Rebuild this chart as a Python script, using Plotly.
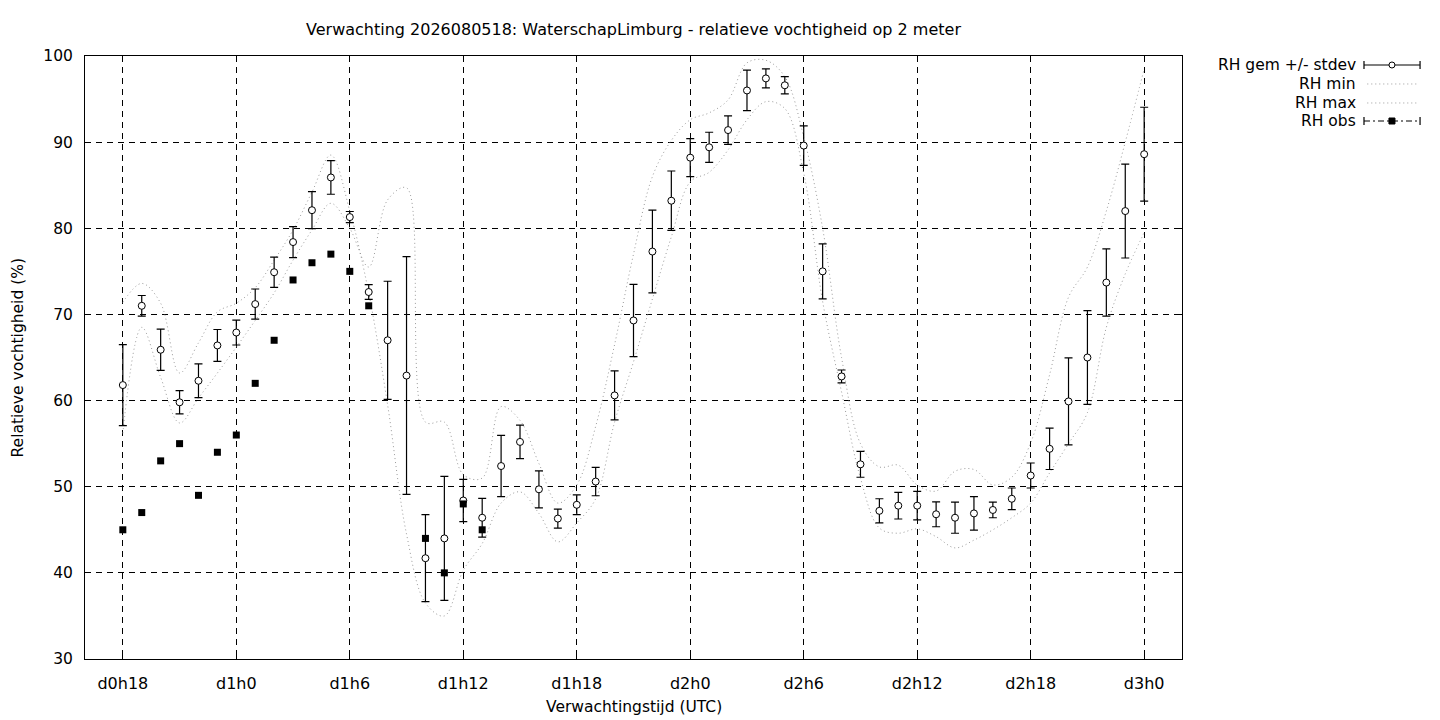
import plotly.graph_objects as go

# forecast hours (hours since d0h0)
hours = list(range(18, 73))

rh_gem = [61.8, 71.0, 65.9, 59.8, 62.3, 66.4, 67.9, 71.2, 74.9, 78.4, 82.1, 85.9,
          81.3, 72.6, 67.0, 62.9, 41.7, 44.0, 48.4, 46.4, 52.4, 55.2,
          49.7, 46.3, 47.9, 50.6, 60.6, 69.3, 77.3, 83.2, 88.2, 89.4,
          91.4, 96.0, 97.4, 96.6, 89.6, 75.0, 62.8, 52.6, 47.2, 47.8,
          47.8, 46.8, 46.4, 46.9, 47.3, 48.6, 51.3, 54.4, 59.9, 65.0,
          73.7, 82.0, 88.6]
rh_std = [4.7, 1.2, 2.4, 1.35, 1.95, 1.85, 1.45, 1.75, 1.75, 1.8, 2.15, 1.95,
          0.65, 0.85, 6.85, 13.8, 5.05, 7.2, 2.45, 2.25, 3.55, 1.95,
          2.15, 1.1, 1.15, 1.65, 2.85, 4.2, 4.8, 3.45, 2.2, 1.75,
          1.65, 2.35, 1.1, 1.0, 2.3, 3.2, 0.75, 1.5, 1.4, 1.55,
          1.65, 1.45, 1.8, 1.95, 0.9, 1.25, 1.45, 2.4, 5.05, 5.45,
          3.9, 5.45, 5.45]
rh_min = [71.4, 73.6, 71.3, 63.2, 66.7, 70.3, 71.3, 73.1, 76.3, 79.8, 84.2, 88.5,
          82.0, 72.5, 59.5, 44.5, 36.5, 35.0, 40.3, 43.4, 48.1, 49.4,
          46.9, 43.6, 45.8, 48.6, 57.5, 64.5, 71.8, 79.0, 85.4, 86.5,
          89.1, 92.6, 94.7, 93.9, 86.4, 71.5, 61.0, 51.0, 45.2, 44.6,
          45.1, 44.2, 42.9, 43.8, 45.0, 46.4, 48.1, 51.6, 55.0, 58.6,
          68.5, 74.7, 79.5]
rh_max = [56.2, 68.5, 62.7, 57.4, 60.3, 63.2, 66.2, 69.3, 72.5, 76.3, 79.8, 82.9,
          80.0, 75.5, 83.3, 84.7, 57.5, 57.5, 51.4, 51.0, 59.3, 57.7,
          52.7, 48.1, 50.2, 57.0, 66.5, 77.0, 86.0, 90.2, 92.6, 93.4,
          94.9, 99.2, 99.5, 97.6, 90.6, 80.0, 65.0, 55.0, 52.3, 52.5,
          50.2, 49.5, 51.8, 52.0, 50.2, 51.1, 55.1, 63.0, 72.0, 75.5,
          82.0, 90.0, 98.5]

obs_hours = [18, 19, 20, 21, 22, 23, 24, 25, 26, 27, 28, 29, 30, 31, 34, 35, 36, 37]
rh_obs = [45, 47, 53, 55, 49, 54, 56, 62, 67, 74, 76, 77, 75, 71, 44, 40, 48, 45]

tick_hours = [18, 24, 30, 36, 42, 48, 54, 60, 66, 72]
tick_labels = ["d0h18", "d1h0", "d1h6", "d1h12", "d1h18",
               "d2h0", "d2h6", "d2h12", "d2h18", "d3h0"]

FONT = "DejaVu Sans"
GREY = "rgb(155,155,155)"

fig = go.Figure()

fig.add_trace(go.Scatter(x=hours, y=rh_min, mode="lines", name="RH min",
                         line=dict(color=GREY, width=1, dash="1px,3px", shape="spline"),
                         showlegend=False))
fig.add_trace(go.Scatter(x=hours, y=rh_max, mode="lines", name="RH max",
                         line=dict(color=GREY, width=1, dash="1px,3px", shape="spline"),
                         showlegend=False))
fig.add_trace(go.Scatter(x=hours, y=rh_gem, mode="markers", name="RH gem +/- stdev",
                         marker=dict(symbol="circle", size=7, color="white",
                                     line=dict(color="black", width=1)),
                         error_y=dict(type="data", array=rh_std, color="black",
                                      thickness=1.2, width=4),
                         showlegend=False))
fig.add_trace(go.Scatter(x=obs_hours, y=rh_obs, mode="markers", name="RH obs",
                         marker=dict(symbol="square", size=7, color="black"),
                         showlegend=False))

# gnuplot-style key: text right aligned, sample to the right of it
key_text_x = 1.1605
key_x0, key_x1, key_xc = 1.1659, 1.2170, 1.1914
key_rows = [0.9851, 0.9536, 0.9221, 0.8922]
key_names = ["RH gem +/- stdev", "RH min", "RH max", "RH obs"]

for name, ky in zip(key_names, key_rows):
    fig.add_annotation(x=key_text_x, y=ky, xref="paper", yref="paper",
                       text=name, showarrow=False, xanchor="right", yanchor="middle",
                       font=dict(family=FONT, size=15.5, color="black"))

def key_caps(ky):
    for kx in (key_x0, key_x1):
        fig.add_shape(type="line", xref="paper", yref="paper", x0=kx, x1=kx,
                      ysizemode="pixel", yanchor=ky, y0=-4, y1=4,
                      line=dict(color="black", width=1.2))

# RH gem
fig.add_shape(type="line", xref="paper", yref="paper", x0=key_x0, x1=key_x1,
              y0=key_rows[0], y1=key_rows[0], line=dict(color="black", width=1.2))
key_caps(key_rows[0])
fig.add_shape(type="circle", xref="paper", yref="paper",
              xsizemode="pixel", xanchor=key_xc, x0=-3, x1=3,
              ysizemode="pixel", yanchor=key_rows[0], y0=-3, y1=3,
              fillcolor="white", line=dict(color="black", width=1))
# RH min / RH max
for ky in key_rows[1:3]:
    fig.add_shape(type="line", xref="paper", yref="paper", x0=key_x0 + 0.003,
                  x1=key_x1 - 0.003, y0=ky, y1=ky,
                  line=dict(color=GREY, width=1, dash="1px,3px"))
# RH obs
fig.add_shape(type="line", xref="paper", yref="paper", x0=key_x0, x1=key_x1,
              y0=key_rows[3], y1=key_rows[3],
              line=dict(color="black", width=1.2, dash="6px,3px,2px,3px"))
key_caps(key_rows[3])
fig.add_shape(type="rect", xref="paper", yref="paper",
              xsizemode="pixel", xanchor=key_xc, x0=-3, x1=3,
              ysizemode="pixel", yanchor=key_rows[3], y0=-3, y1=3,
              fillcolor="black", line=dict(color="black", width=1))

# axis titles
fig.add_annotation(x=0.5, y=-0.0796, xref="paper", yref="paper",
                   text="Verwachtingstijd (UTC)", showarrow=False,
                   xanchor="center", yanchor="middle",
                   font=dict(family=FONT, size=15.5, color="black"))
fig.add_annotation(x=-0.0611, y=0.5, xref="paper", yref="paper",
                   text="Relatieve vochtigheid (%)", showarrow=False, textangle=-90,
                   xanchor="center", yanchor="middle",
                   font=dict(family=FONT, size=15.5, color="black"))

axis_common = dict(showline=True, linecolor="black", linewidth=1, mirror="ticks",
                   ticks="inside", ticklen=6, tickcolor="black", tickwidth=1,
                   showgrid=True, gridcolor="black", gridwidth=1, griddash="6px,5px",
                   zeroline=False)

# the page body has an 8px margin, so the figure is 8px smaller and shifted
fig.update_layout(
    width=1432, height=712,
    margin=dict(l=77, r=258, t=48, b=61),
    paper_bgcolor="white", plot_bgcolor="white",
    title=dict(text="Verwachting 2026080518: WaterschapLimburg - relatieve vochtigheid op 2 meter",
               xref="paper", x=0.5, xanchor="center", y=0.9705, yanchor="middle",
               font=dict(family=FONT, size=16, color="black")),
    xaxis=dict(range=[16, 74], tickvals=tick_hours, ticktext=tick_labels,
               ticklabelstandoff=10, tickfont=dict(family=FONT, size=16, color="black"),
               **axis_common),
    yaxis=dict(range=[30, 100], dtick=10, tick0=30, ticklabelstandoff=8,
               tickfont=dict(family=FONT, size=15.5, color="black"),
               **axis_common),
    showlegend=False,
)

fig.write_html("out.html")
